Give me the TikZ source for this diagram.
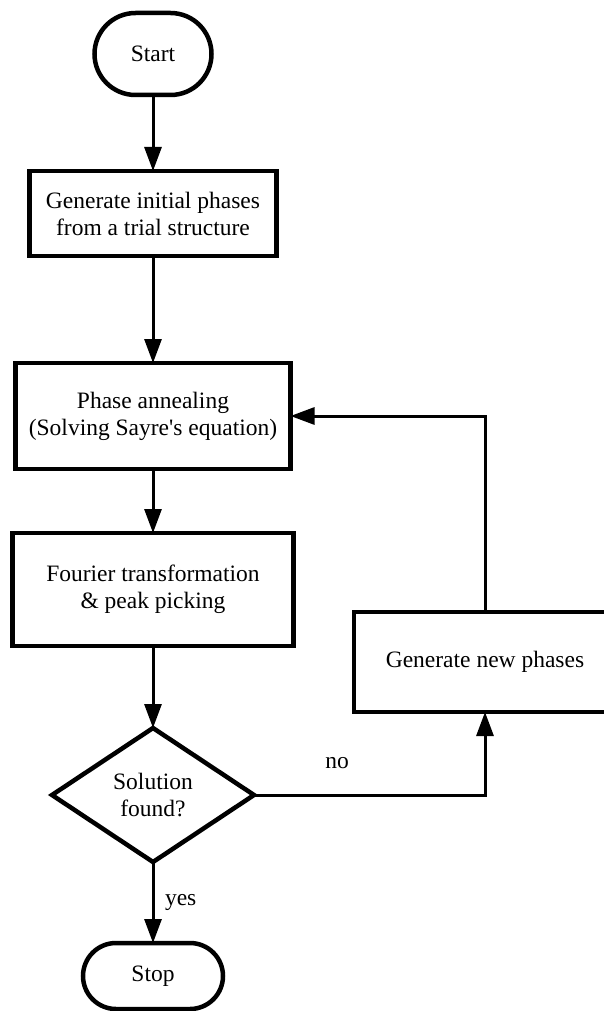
\documentclass[tikz,border=0pt]{standalone}
\usepackage{fontspec}
\setmainfont{Liberation Serif}
\usetikzlibrary{shapes.geometric,arrows.meta}
\begin{document}
\begin{tikzpicture}[x=1pt,y=-1pt,
  every node/.style={font=\fontsize{23.5}{27}\selectfont, align=center, inner sep=0pt, outer sep=0pt},
  procbox/.style={draw, line width=4.5pt, rectangle},
  term/.style={draw, line width=4.5pt, rectangle},
  decbox/.style={draw, diamond, line width=4.5pt},
  conn/.style={line width=3pt, -{Triangle[length=24pt,width=17pt]}},
  lbl/.style={font=\fontsize{23.5}{27}\selectfont}
]
\useasboundingbox (0,0) rectangle (604,1011);
\clip (0,0) rectangle (604,1011);
\node[term, rounded corners=41pt, minimum width=117pt, minimum height=82pt] (start) at (153,54) {Start};
\node[procbox, minimum width=247pt, minimum height=85pt] (init) at (153,213.5) {Generate initial phases\\from a trial structure};
\node[procbox, minimum width=275pt, minimum height=106pt] (anneal) at (153,416) {Phase annealing\\(Solving Sayre\textquotesingle s equation)};
\node[procbox, minimum width=281pt, minimum height=113pt] (fourier) at (153,589.5) {Fourier transformation\\\& peak picking};
\node[decbox, minimum width=202pt, minimum height=134pt] (dec) at (153,795) {Solution\\found?};
\node[term, rounded corners=33pt, minimum width=140pt, minimum height=66pt] (stop) at (153,976) {Stop};
\node[procbox, minimum width=262pt, minimum height=100pt] (newph) at (485,662) {Generate new phases};
\draw[conn] (start) -- (init);
\draw[conn] (init) -- (anneal);
\draw[conn] (anneal) -- (fourier);
\draw[conn] (fourier) -- (dec);
\draw[conn] (dec) -- node[lbl, midway, anchor=west, xshift=12pt] (yes) {yes} (stop);
\draw[conn] (dec.east) -| node[lbl, pos=0.18, anchor=south, yshift=26pt] (no) {no} (newph.south);
\draw[conn] (newph.north) |- (anneal.east);
\end{tikzpicture}
\end{document}
